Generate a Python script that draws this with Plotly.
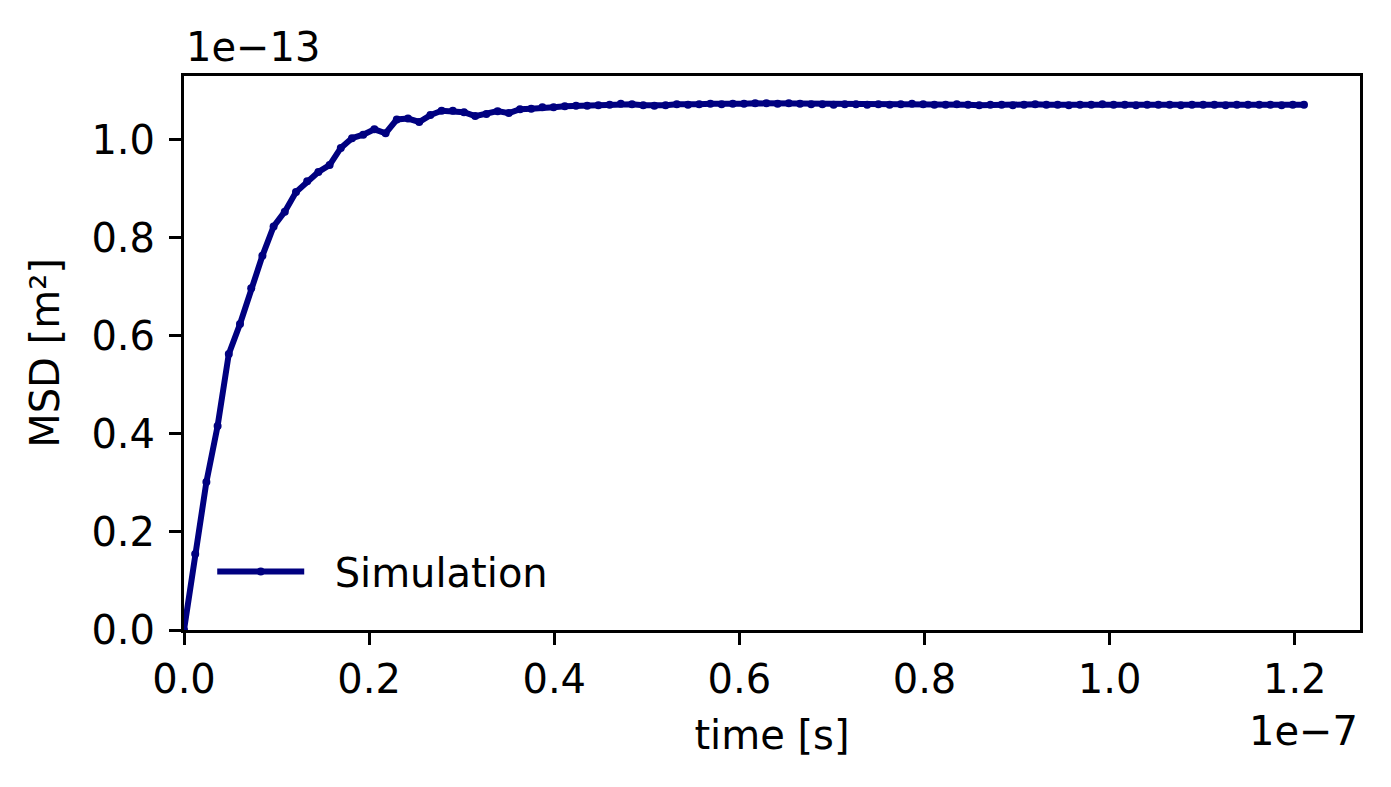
import plotly.graph_objects as go

# time step 1.21e-9 s, 101 samples
dt = 1.21e-9
n_points = 101
time_s = [i * dt for i in range(n_points)]

# MSD values in units of 1e-13 m^2
msd_e13 = [
    0.000, 0.155, 0.302, 0.416, 0.563, 0.624, 0.697, 0.763, 0.823, 0.853,
    0.893, 0.915, 0.934, 0.948, 0.983, 1.003, 1.010, 1.021, 1.013, 1.041,
    1.043, 1.036, 1.050, 1.059, 1.059, 1.056, 1.048, 1.052, 1.058, 1.054,
    1.062, 1.063, 1.066, 1.066, 1.068, 1.069, 1.069, 1.070, 1.071, 1.073,
    1.072, 1.070, 1.069, 1.070, 1.072, 1.071, 1.072, 1.073, 1.072, 1.073,
    1.073, 1.074, 1.074, 1.073, 1.074, 1.073, 1.072, 1.072, 1.071, 1.072,
    1.072, 1.071, 1.072, 1.071, 1.072, 1.073, 1.072, 1.071, 1.071, 1.072,
    1.071, 1.070, 1.071, 1.071, 1.070, 1.071, 1.072, 1.071, 1.071, 1.070,
    1.071, 1.071, 1.072, 1.071, 1.071, 1.070, 1.071, 1.071, 1.071, 1.070,
    1.071, 1.071, 1.071, 1.070, 1.071, 1.071, 1.071, 1.071, 1.070, 1.071,
    1.071,
]
msd = [v * 1e-13 for v in msd_e13]

x_tick_labels = ["0.0", "0.2", "0.4", "0.6", "0.8", "1.0", "1.2"]
x_tick_vals = [float(s) * 1e-7 for s in x_tick_labels]
y_tick_labels = ["0.0", "0.2", "0.4", "0.6", "0.8", "1.0"]
y_tick_vals = [float(s) * 1e-13 for s in y_tick_labels]

FONT = "DejaVu Sans"
FS = 40

fig = go.Figure()
fig.add_trace(go.Scatter(
    x=time_s, y=msd, mode="lines+markers", name="\u00a0\u00a0Simulation",
    line=dict(color="#000080", width=6),
    marker=dict(color="#000080", size=8),
))

axis_common = dict(
    showline=True, linecolor="black", linewidth=3, mirror=True,
    ticks="outside", ticklen=12, tickwidth=3, tickcolor="black",
    showgrid=False, zeroline=False,
    tickfont=dict(family=FONT, size=FS, color="black"),
)

fig.update_layout(
    width=1391, height=787,
    margin=dict(l=176, r=39, t=68, b=165),
    paper_bgcolor="white", plot_bgcolor="white",
    font=dict(family=FONT, size=FS, color="black"),
    xaxis=dict(range=[0, 1.2705e-7], tickvals=x_tick_vals, ticktext=x_tick_labels,
               title=dict(text="time [s]", font=dict(family=FONT, size=FS), standoff=20),
               **axis_common),
    yaxis=dict(range=[0, 1.1297e-13], tickvals=y_tick_vals, ticktext=y_tick_labels,
               ticklabelstandoff=6,
               title=dict(text="MSD [m²]", font=dict(family=FONT, size=FS), standoff=20),
               **axis_common),
    showlegend=True,
    legend=dict(x=0.024, y=0.047, xanchor="left", yanchor="bottom",
                bgcolor="rgba(0,0,0,0)", borderwidth=0,
                font=dict(family=FONT, size=FS), itemwidth=87),
    annotations=[
        dict(text="1e−13", xref="paper", yref="paper", x=0, y=1, xanchor="left",
             yanchor="bottom", yshift=4, showarrow=False, font=dict(family=FONT, size=FS)),
        dict(text="1e−7", xref="paper", yref="paper", x=1, y=0, xanchor="right",
             yanchor="top", yshift=-76, showarrow=False, font=dict(family=FONT, size=FS)),
    ],
)

fig.write_html("out.html")
